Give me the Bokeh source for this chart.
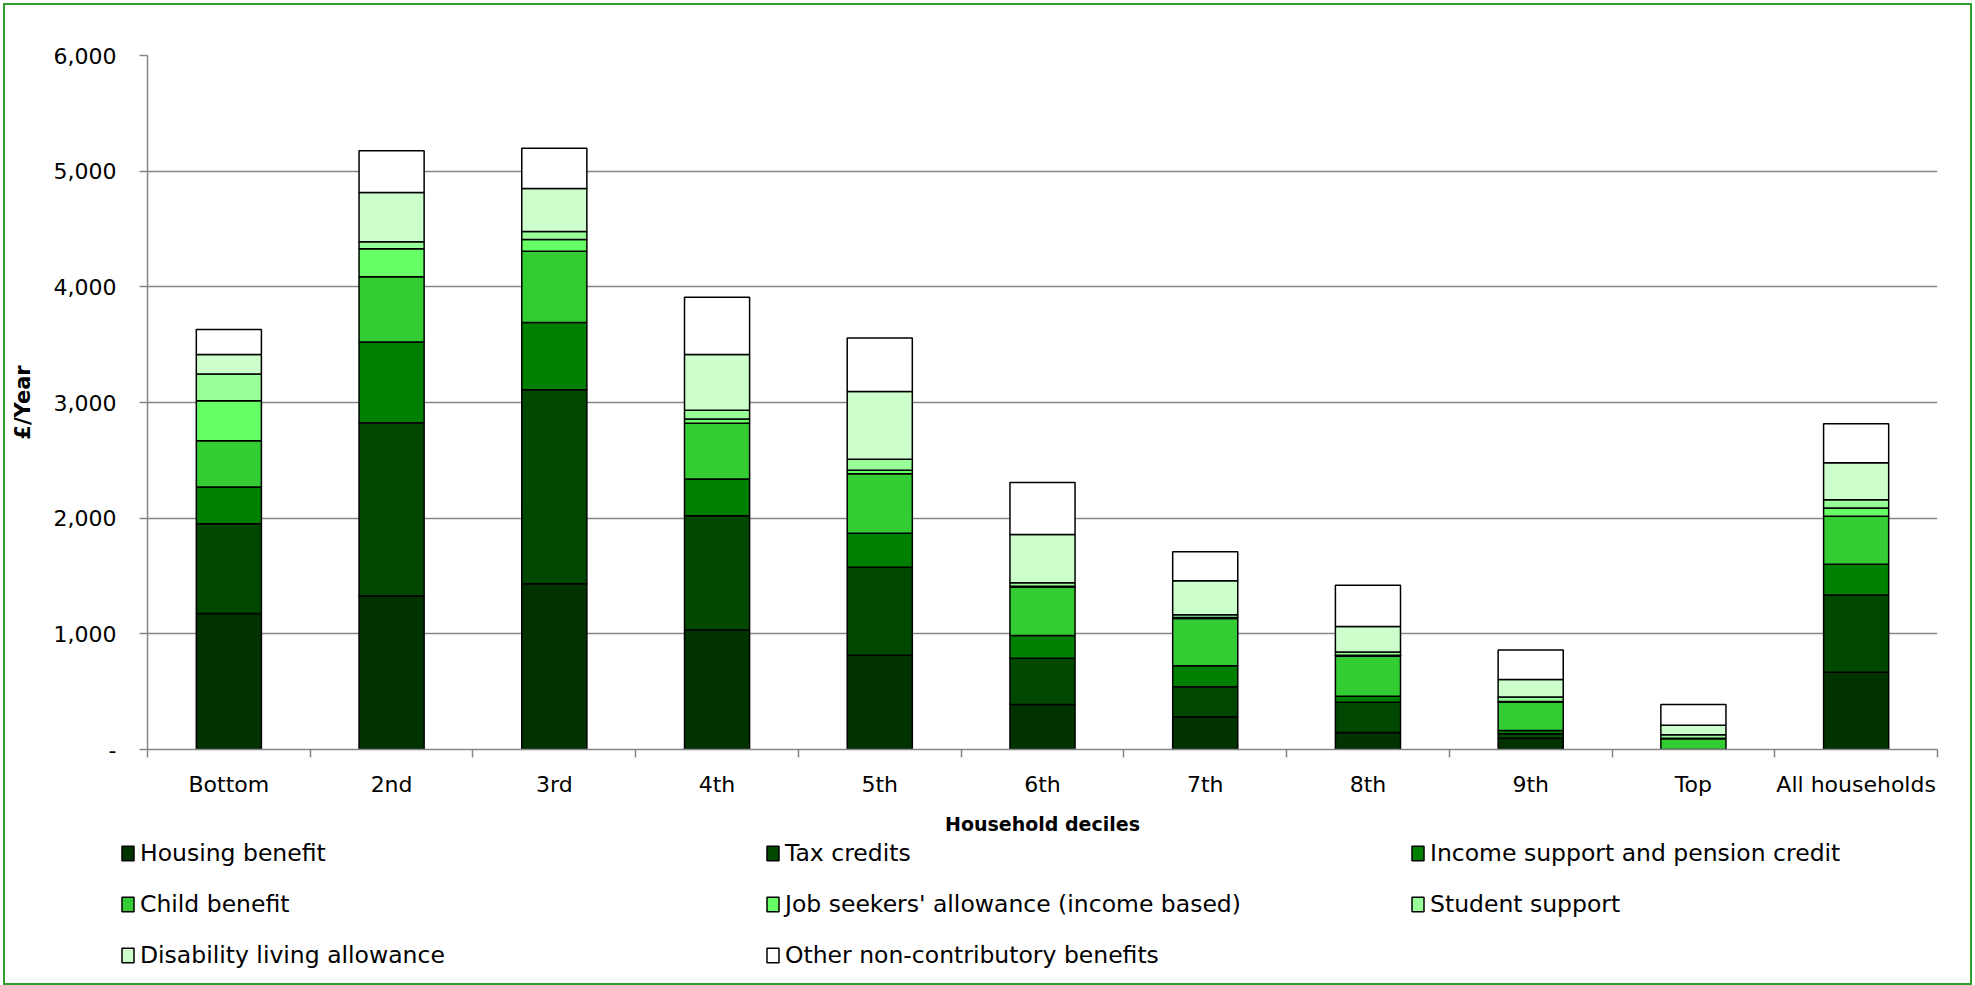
from bokeh.plotting import figure
from bokeh.models import (ColumnDataSource, FactorRange, Range1d, LinearAxis,
                          CategoricalAxis, FixedTicker, NumeralTickFormatter,
                          Legend, LegendItem)
from bokeh.embed import file_html
from bokeh.resources import INLINE

# Household deciles and average benefit receipt (£ per year) by type
deciles = ["Bottom", "2nd", "3rd", "4th", "5th", "6th", "7th", "8th", "9th", "Top",
           "All households"]

housing_benefit = [1176, 1327, 1434, 1034, 814, 388, 284, 147, 98, 0, 668]
tax_credits = [775, 1498, 1676, 986, 762, 400, 259, 262, 38, 0, 667]
income_support = [319, 698, 581, 319, 293, 198, 181, 52, 28, 0, 267]
child_benefit = [400, 564, 616, 481, 516, 418, 409, 346, 245, 92, 414]
jobseekers = [345, 242, 103, 38, 29, 8, 9, 8, 6, 5, 72]
student_support = [232, 60, 69, 75, 95, 30, 23, 27, 38, 30, 72]
disability_living = [169, 426, 371, 482, 586, 416, 295, 222, 153, 83, 320]
other_noncontrib = [215, 362, 349, 496, 463, 451, 250, 357, 255, 179, 337]

series_keys = ["hb", "tc", "is", "cb", "jsa", "ss", "dla", "other"]
series_labels = ["Housing benefit", "Tax credits", "Income support and pension credit",
                 "Child benefit", "Job seekers' allowance (income based)", "Student support",
                 "Disability living allowance", "Other non-contributory benefits"]
series_colors = ["#003300", "#004800", "#008000", "#33cc33", "#66ff66", "#99ff99",
                 "#ccffcc", "#ffffff"]

y_ticks = [0, 1000, 2000, 3000, 4000, 5000, 6000]

source = ColumnDataSource(data={
    "decile": deciles, "hb": housing_benefit, "tc": tax_credits, "is": income_support,
    "cb": child_benefit, "jsa": jobseekers, "ss": student_support,
    "dla": disability_living, "other": other_noncontrib,
})

FONT = "DejaVu Sans"
GREY = "#868686"
W = 1975
CHART_H = 838
LEGEND_H = 147


def green_frame(top, bottom):
    """Part of the thin green border drawn around the whole chart."""
    return [
        ":host { position: relative; }",
        ":host::after { content: ''; position: absolute; left: 3px; right: 3px;"
        f" top: {top}px; bottom: {bottom}px; border: 0 solid #2e9e2e;"
        " border-left-width: 2px; border-right-width: 2px;"
        f" border-top-width: {2 if top else 0}px; border-bottom-width: {0 if top else 2}px;"
        " pointer-events: none; z-index: 100; }",
    ]


# ---- main chart ----
p = figure(width=W, height=CHART_H, output_backend="svg", toolbar_location=None,
           x_range=FactorRange(factors=deciles, range_padding=0),
           y_range=Range1d(0, 6000), x_axis_location=None, y_axis_location=None,
           min_border_left=147, min_border_right=38, min_border_top=55,
           min_border_bottom=CHART_H - 749)
p.outline_line_color = None
p.background_fill_color = "white"
p.border_fill_color = "white"
p.stylesheets = green_frame(3, 0)

# Tick marks on the category boundaries (synthetic positions 0..n), drawn as minor ticks
edge_axis = LinearAxis(ticker=FixedTicker(ticks=[], minor_ticks=list(range(len(deciles) + 1))),
                       major_tick_line_color=None, major_label_standoff=0,
                       minor_tick_out=8, minor_tick_in=0,
                       minor_tick_line_color=GREY, minor_tick_line_width=1.5,
                       axis_line_color=GREY, axis_line_width=1.5)
p.add_layout(edge_axis, "below")

cat_axis = CategoricalAxis(axis_line_color=None, major_tick_line_color=None,
                           major_tick_out=0, major_tick_in=0,
                           major_label_standoff=14,
                           major_label_text_font=FONT, major_label_text_font_size="22px",
                           major_label_text_color="black",
                           axis_label="Household deciles", axis_label_standoff=13,
                           axis_label_text_font=FONT, axis_label_text_font_size="19px",
                           axis_label_text_font_style="bold", axis_label_text_color="black")
p.add_layout(cat_axis, "below")

y_axis = LinearAxis(ticker=FixedTicker(ticks=y_ticks),
                    formatter=NumeralTickFormatter(format="0,0"),
                    major_label_overrides={0: "-"},
                    major_tick_out=8, major_tick_in=0, minor_tick_line_color=None,
                    major_label_standoff=23,
                    major_label_text_font=FONT, major_label_text_font_size="22px",
                    major_label_text_color="black",
                    axis_line_color=GREY, axis_line_width=1.5,
                    major_tick_line_color=GREY, major_tick_line_width=1.5,
                    axis_label="£/Year", axis_label_standoff=16,
                    axis_label_text_font=FONT, axis_label_text_font_size="21px",
                    axis_label_text_font_style="bold", axis_label_text_color="black")
p.add_layout(y_axis, "left")

p.xgrid.visible = False
p.ygrid.ticker = FixedTicker(ticks=y_ticks)
p.ygrid.grid_line_color = GREY
p.ygrid.grid_line_width = 1.5

p.vbar_stack(series_keys, x="decile", width=0.4, source=source,
             fill_color=series_colors, line_color="black", line_width=1.5)

# ---- legend strip: same stacks, kept out of view, only their legend is shown ----
lg = figure(width=W, height=LEGEND_H, output_backend="svg", toolbar_location=None,
            x_range=FactorRange(factors=deciles, range_padding=0),
            y_range=Range1d(100000, 100001), x_axis_location=None, y_axis_location=None,
            min_border=0, min_border_left=0, min_border_right=0,
            min_border_top=0, min_border_bottom=0)
lg.outline_line_color = None
lg.grid.visible = False
lg.background_fill_color = "white"
lg.border_fill_color = "white"
lg.stylesheets = green_frame(0, 0)
key_renderers = lg.vbar_stack(series_keys, x="decile", width=0.4, source=source,
                              fill_color=series_colors, line_color="black", line_width=1.5)

items = [LegendItem(label=lab, renderers=[r]) for lab, r in zip(series_labels, key_renderers)]
legend = Legend(items=items, orientation="horizontal", ncols=3,
                location=(120, 15), padding=0, margin=0, spacing=21,
                glyph_width=15, glyph_height=18, label_standoff=5,
                label_width=604, label_height=30,
                label_text_font=FONT, label_text_font_size="23.5px",
                label_text_color="black",
                border_line_color=None, background_fill_alpha=0)
lg.add_layout(legend, "center")

open("out.html", "w").write(file_html([p, lg], INLINE))
